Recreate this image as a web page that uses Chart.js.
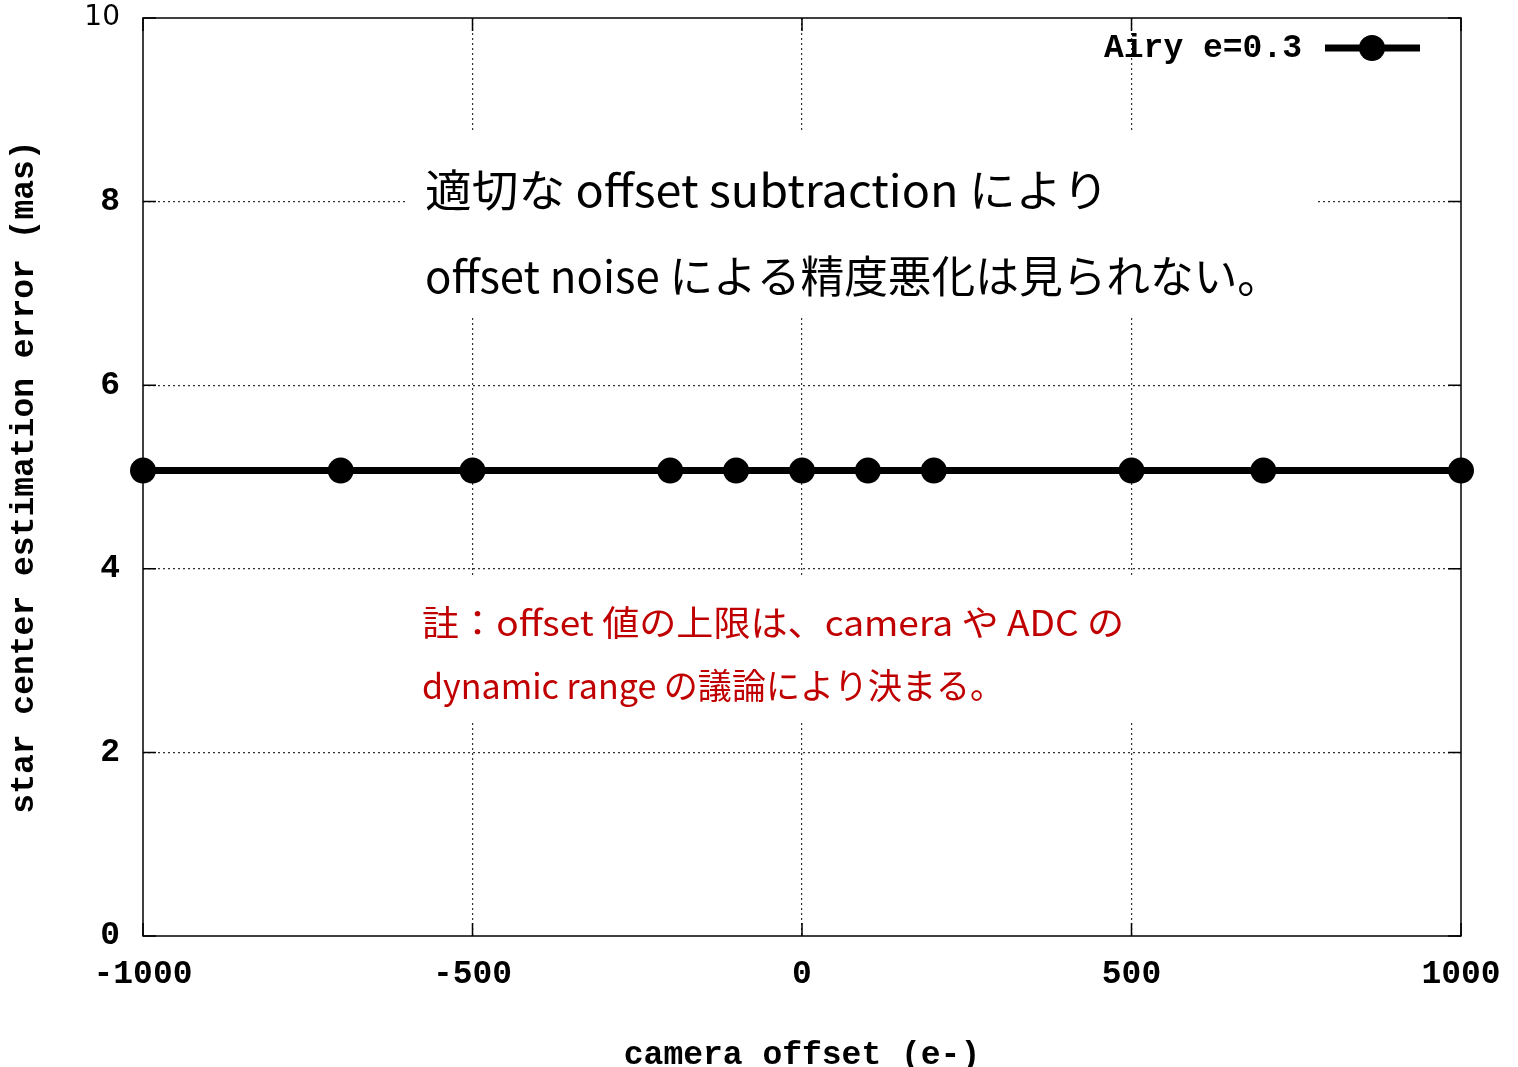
<!DOCTYPE html>
<html>
<head>
<meta charset="utf-8">
<script src="https://cdn.jsdelivr.net/npm/chart.js@4/dist/chart.umd.min.js"></script>
<style>
body { margin: 0; background: #fff; }
</style>
</head>
<body>
<canvas id="grafico" width="1518" height="1067"></canvas>
<script>
// dados
const offsets = [-1000, -700, -500, -200, -100, 0, 100, 200, 500, 700, 1000];
const erros = [5.07, 5.07, 5.07, 5.07, 5.07, 5.07, 5.07, 5.07, 5.07, 5.07, 5.07];
const rotuloSerie = 'Airy e=0.3';
const ticksX = [-1000, -500, 0, 500, 1000];
const ticksY = [0, 2, 4, 6, 8, 10];
const tituloX = 'camera offset (e-)';
const tituloY = 'star center estimation error (mas)';
const notaPreta = ['適切な offset subtraction により', 'offset noise による精度悪化は見られない。'];
const notaVermelha = ['註：offset 値の上限は、camera や ADC の', 'dynamic range の議論により決まる。'];

const MONO = '"Liberation Mono", "DejaVu Sans Mono", monospace';
const JP = '"Noto Sans CJK JP", "Noto Sans", sans-serif';

// cada linha e esticada/comprimida para a largura que tem na figura
function escreverNota(ctx, linhas, x, bases, tamanho, cor, larguras) {
    ctx.font = tamanho + 'px ' + JP;
    ctx.fillStyle = cor;
    ctx.textAlign = 'left';
    ctx.textBaseline = 'alphabetic';
    linhas.forEach((linha, i) => {
        const escala = larguras[i] / ctx.measureText(linha).width;
        ctx.save();
        ctx.translate(x, bases[i]);
        ctx.scale(escala, 1);
        ctx.fillText(linha, 0, 0);
        ctx.restore();
    });
}

const extras = {
    id: 'extras',
    beforeDatasetsDraw(chart) {
        const ctx = chart.ctx;
        const a = chart.chartArea;
        const sx = chart.scales.x, sy = chart.scales.y;
        ctx.save();
        // caixas brancas atras das notas
        ctx.fillStyle = '#fff';
        ctx.fillRect(405, 130, 913, 188);
        ctx.fillRect(410, 575, 732, 148);

        // moldura e ticks para dentro (estilo gnuplot)
        ctx.strokeStyle = '#000';
        ctx.lineWidth = 1.5;
        ctx.strokeRect(a.left, a.top, a.right - a.left, a.bottom - a.top);
        ctx.beginPath();
        ticksX.forEach(v => {
            const px = sx.getPixelForValue(v);
            ctx.moveTo(px, a.bottom); ctx.lineTo(px, a.bottom - 13);
            ctx.moveTo(px, a.top); ctx.lineTo(px, a.top + 13);
        });
        ticksY.forEach(v => {
            const py = sy.getPixelForValue(v);
            ctx.moveTo(a.left, py); ctx.lineTo(a.left + 13, py);
            ctx.moveTo(a.right, py); ctx.lineTo(a.right - 13, py);
        });
        ctx.stroke();

        escreverNota(ctx, notaPreta, 425, [207, 293], 44, '#000', [684, 856]);
        escreverNota(ctx, notaVermelha, 422, [636, 699], 35, '#C00000', [702, 582]);
        ctx.restore();
    },
    afterDraw(chart) {
        const ctx = chart.ctx;
        const ds = chart.data.datasets[0];
        ctx.save();
        ctx.font = 'bold 33px ' + MONO;
        ctx.fillStyle = '#000';
        ctx.textAlign = 'right';
        ctx.textBaseline = 'middle';
        ctx.fillText(ds.label, 1302, 49);
        ctx.strokeStyle = '#000';
        ctx.lineWidth = 7;
        ctx.beginPath();
        ctx.moveTo(1325, 48); ctx.lineTo(1420, 48);
        ctx.stroke();
        ctx.beginPath();
        ctx.arc(1372, 48, 13, 0, Math.PI * 2);
        ctx.fillStyle = '#000';
        ctx.fill();
        ctx.restore();
    }
};

function corGrade(lista) {
    return (c) => {
        const v = c.tick ? c.tick.value : null;
        if (v === lista[0] || v === lista[lista.length - 1]) return 'rgba(0,0,0,0)';
        return '#333';
    };
}

const grafico = document.getElementById('grafico').getContext('2d');
new Chart(grafico, {
    type: 'line',
    data: {
        datasets: [{
            label: rotuloSerie,
            data: offsets.map((x, i) => ({ x: x, y: erros[i] })),
            borderColor: '#000',
            backgroundColor: '#000',
            borderWidth: 7,
            pointRadius: 13,
            pointHoverRadius: 13,
            pointBackgroundColor: '#000',
            pointBorderWidth: 0,
            tension: 0,
            clip: false
        }]
    },
    options: {
        responsive: false,
        animation: false,
        devicePixelRatio: 1,
        layout: { padding: { top: 18, right: 57, left: 0, bottom: 0 } },
        plugins: {
            legend: { display: false },
            tooltip: { enabled: false }
        },
        scales: {
            x: {
                type: 'linear',
                min: ticksX[0],
                max: ticksX[ticksX.length - 1],
                afterBuildTicks: (s) => { s.ticks = ticksX.map(v => ({ value: v })); },
                afterFit: (s) => { s.height = 131; s.paddingLeft = 0; s.paddingRight = 0; },
                grid: { color: corGrade(ticksX), lineWidth: 1.2, drawTicks: false },
                border: { display: false, dash: [2, 3] },
                ticks: {
                    padding: 19,
                    color: '#000',
                    maxRotation: 0,
                    autoSkip: false,
                    callback: (v) => String(v),
                    font: { family: MONO, size: 33, weight: 'bold' }
                },
                title: {
                    display: true,
                    text: tituloX,
                    color: '#000',
                    padding: { top: 0, bottom: 0 },
                    font: { family: MONO, size: 33, weight: 'bold', lineHeight: 0.7 }
                }
            },
            y: {
                type: 'linear',
                min: ticksY[0],
                max: ticksY[ticksY.length - 1],
                afterBuildTicks: (s) => { s.ticks = ticksY.map(v => ({ value: v })); },
                afterFit: (s) => { s.width = 143; s.paddingTop = 0; s.paddingBottom = 0; },
                grid: { color: corGrade(ticksY), lineWidth: 1.2, drawTicks: false },
                border: { display: false, dash: [2, 3] },
                ticks: {
                    padding: 23,
                    color: '#000',
                    callback: (v) => String(v),
                    font: (c) => (c.tick && c.tick.value === 10)
                        ? { family: '"DejaVu Sans", sans-serif', size: 28, weight: 'normal' }
                        : { family: MONO, size: 33, weight: 'bold' }
                },
                title: {
                    display: true,
                    text: tituloY,
                    color: '#000',
                    padding: { top: 5, bottom: 0 },
                    font: { family: MONO, size: 33, weight: 'bold' }
                }
            }
        }
    },
    plugins: [extras]
});
</script>
</body>
</html>
